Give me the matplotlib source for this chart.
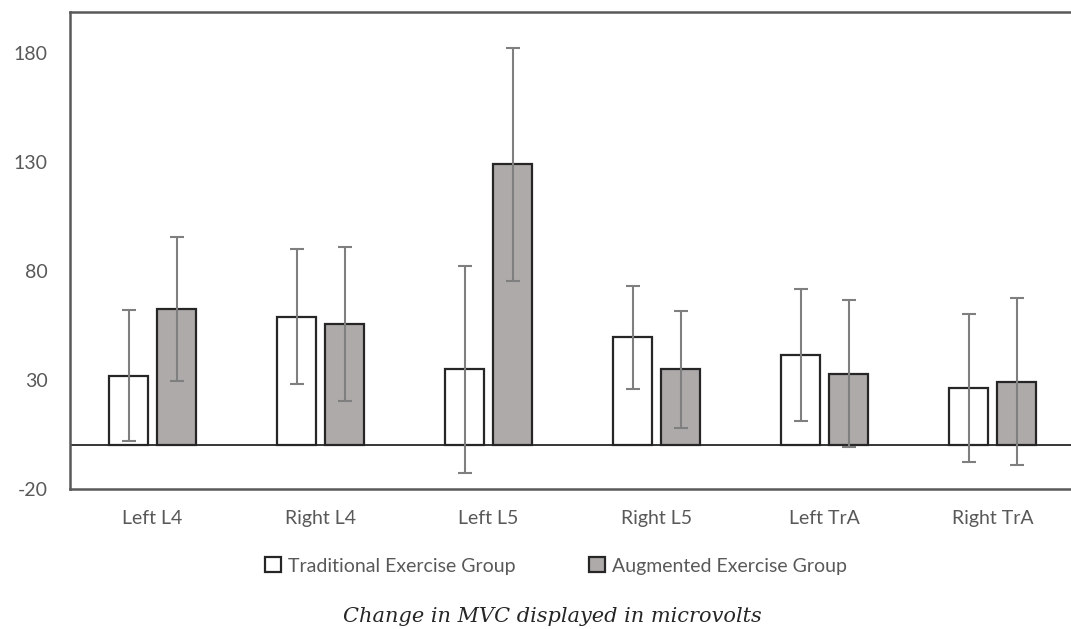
import numpy as np
import matplotlib.pyplot as plt

muscles = ["Left L4", "Right L4", "Left L5", "Right L5", "Left TrA", "Right TrA"]
traditional = [32, 59, 35, 49.6, 41.5, 26.2]
traditional_err = [30, 31, 47.5, 23.6, 30.5, 34]
augmented = [62.5, 55.6, 129, 35, 33, 29.2]
augmented_err = [33, 35.4, 53.5, 26.8, 33.8, 38.3]

plt.rcParams['font.family'] = ['Lato', 'DejaVu Sans']
plt.rcParams['axes.unicode_minus'] = False

fig = plt.figure(figsize=(10.71, 6.29), dpi=100)
ax = fig.add_axes([70/1071, 1 - 489/629, 1008/1071, 477/629])

x = np.arange(len(muscles))
w = 0.23
err_kw = dict(ecolor="#7f7f7f", elinewidth=1.5, capsize=5, capthick=1.5)
ax.bar(x - 0.14, traditional, w, yerr=traditional_err, color="white",
       edgecolor="#262626", linewidth=1.6, error_kw=err_kw, label="Traditional Exercise Group")
ax.bar(x + 0.145, augmented, w, yerr=augmented_err, color="#aeaaaa",
       edgecolor="#262626", linewidth=1.6, error_kw=err_kw, label="Augmented Exercise Group")

ax.axhline(0, color="#262626", linewidth=1.3, zorder=0.5)
ax.set_xlim(-0.49, len(muscles) - 0.49)
ax.set_ylim(-20, 199)
ax.set_yticks([-20, 30, 80, 130, 180])
ax.set_xticks(x)
ax.set_xticklabels(muscles)
ax.tick_params(length=0, labelsize=14, labelcolor="#595959")
ax.tick_params(axis="x", pad=15)
ax.tick_params(axis="y", pad=16)
for s in ax.spines.values():
    s.set_color("#595959")
    s.set_linewidth(1.8)

fig.legend(loc="center", bbox_to_anchor=(556/1071, 1 - 566/629), ncol=2, frameon=False,
           fontsize=14, handlelength=0.8, handleheight=0.8, handletextpad=0.35,
           columnspacing=3.8, labelcolor="#595959")
fig.text(552/1071, 1 - 617/629, "Change in MVC displayed in microvolts", ha="center", va="center",
         family="DejaVu Serif", style="italic", fontsize=15, color="#262626")

fig.savefig("out.png", dpi=100)
